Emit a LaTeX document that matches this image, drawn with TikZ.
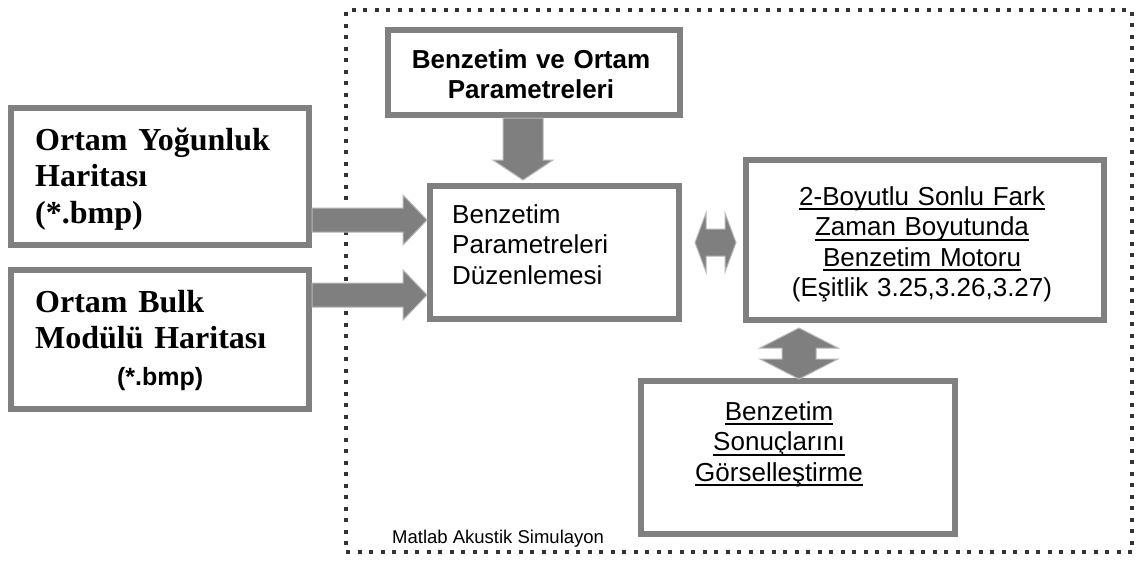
\documentclass[tikz,border=0pt]{standalone}
\usepackage{fontspec}
\setmainfont{Liberation Serif}
\setsansfont{Liberation Sans}
\usetikzlibrary{calc}
\definecolor{boxgray}{HTML}{808080}
\definecolor{arrgray}{HTML}{7F7F7F}
\definecolor{arredge}{HTML}{B8B8B8}
\definecolor{dotcol}{HTML}{333333}
\newsavebox\ulbox
\newcommand\ulin[1]{\leavevmode\sbox\ulbox{#1}\rlap{\rule[-5pt]{\wd\ulbox}{1.6pt}}\usebox\ulbox}
% single right arrow: start, end, shaft half width, head half width, head length
\newcommand\rarrow[5]{\filldraw[fat] ($(#1)+(0,-#3)$) -- ($(#2)+(-#5,-#3)$) -- ($(#2)+(-#5,-#4)$) -- (#2) -- ($(#2)+(-#5,#4)$) -- ($(#2)+(-#5,#3)$) -- ($(#1)+(0,#3)$) -- cycle;}
% single down arrow
\newcommand\darrow[5]{\filldraw[fat] ($(#1)+(-#3,0)$) -- ($(#2)+(-#3,-#5)$) -- ($(#2)+(-#4,-#5)$) -- (#2) -- ($(#2)+(#4,-#5)$) -- ($(#2)+(#3,-#5)$) -- ($(#1)+(#3,0)$) -- cycle;}
% horizontal double arrow
\newcommand\hdarrow[5]{\filldraw[fat] (#1) -- ($(#1)+(#5,-#4)$) -- ($(#1)+(#5,-#3)$) -- ($(#2)+(-#5,-#3)$) -- ($(#2)+(-#5,-#4)$) -- (#2) -- ($(#2)+(-#5,#4)$) -- ($(#2)+(-#5,#3)$) -- ($(#1)+(#5,#3)$) -- ($(#1)+(#5,#4)$) -- cycle;}
% vertical double arrow
\newcommand\vdarrow[5]{\filldraw[fat] (#1) -- ($(#1)+(-#4,#5)$) -- ($(#1)+(-#3,#5)$) -- ($(#2)+(-#3,-#5)$) -- ($(#2)+(-#4,-#5)$) -- (#2) -- ($(#2)+(#4,-#5)$) -- ($(#2)+(#3,-#5)$) -- ($(#1)+(#3,#5)$) -- ($(#1)+(#4,#5)$) -- cycle;}
\begin{document}
\begin{tikzpicture}[x=1pt,y=-1pt,
  box/.style={draw=boxgray,line width=6pt,fill=white,inner sep=0pt},
  fat/.style={fill=arrgray,draw=arredge,line width=1pt,line join=miter},
  framebox/.style={draw=dotcol,line width=4pt,dash pattern=on 4pt off 7.5pt,inner sep=0pt},
  serifbig/.style={inner sep=0pt,align=left,font={\rmfamily\bfseries\fontsize{32}{36.5}\selectfont}},
  sanstxt/.style={inner sep=0pt,font={\sffamily\fontsize{26}{30.5}\selectfont}},
  smalltxt/.style={inner sep=0pt,font={\sffamily\fontsize{18.5}{22}\selectfont}}]
\useasboundingbox (0,0) rectangle (1137,563);
\fill[white] (0,0) rectangle (1137,563);

% dotted frame
\node[framebox,minimum width=786pt,minimum height=542pt] (F) at (739,281) {};
\node[smalltxt,anchor=base west] (Flabel) at (392,543) {Matlab Akustik Simulayon};

% boxes
\node[box,minimum width=298pt,minimum height=137pt] (A) at (160,176.5) {};
\node[box,minimum width=298pt,minimum height=139pt] (B) at (160,339.5) {};
\node[box,minimum width=292pt,minimum height=85pt] (P) at (534,72.5) {};
\node[box,minimum width=249pt,minimum height=133pt] (D) at (554.5,252.5) {};
\node[box,minimum width=358pt,minimum height=160pt] (E) at (925,240) {};
\node[box,minimum width=314pt,minimum height=153pt] (V) at (798,457.5) {};

% texts
\node[serifbig,text width=260pt,anchor=base west] (At) at (35,150) {Ortam Yoğunluk\\Haritası\\(*.bmp)};
\node[serifbig,text width=250pt,anchor=base west] (Bt) at (35,312) {Ortam Bulk\\Modülü Haritası\\\makebox[250pt]{\sffamily\fontsize{25}{30}\selectfont(*.bmp)}};
\node[sanstxt,font={\sffamily\bfseries\fontsize{26}{30}\selectfont},text width=290pt,align=center,anchor=base] (Pt) at (531,68) {Benzetim ve Ortam\\Parametreleri};
\node[sanstxt,text width=220pt,align=left,anchor=base west] (Dt) at (452,223) {Benzetim\\Parametreleri\\Düzenlemesi};
\node[sanstxt,text width=350pt,align=center,anchor=base] (Et) at (922,205) {\ulin{2-Boyutlu Sonlu Fark}\\\ulin{Zaman Boyutunda}\\\ulin{Benzetim Motoru}\\(Eşitlik 3.25,3.26,3.27)};
\node[sanstxt,text width=300pt,align=center,anchor=base] (Vt) at (779,420) {\ulin{Benzetim}\\\ulin{Sonuçlarını}\\\ulin{Görselleştirme}};

% helper coordinates
\coordinate (r1) at (0,220);
\coordinate (r2) at (0,295);
\coordinate (pd) at (523,0);
\coordinate (dd) at (0,242.5);
\coordinate (vx) at (799,0);
\coordinate (a1s) at (A.east |- r1);
\coordinate (a1e) at (D.west |- r1);
\coordinate (a2s) at (B.east |- r2);
\coordinate (a2e) at (D.west |- r2);
\coordinate (p1) at (P.south -| pd);
\coordinate (p2) at ($(D.north -| pd)+(0,-3)$);
\coordinate (h1) at ($(D.east |- dd)+(13,0)$);
\coordinate (h2) at ($(E.west |- dd)+(-7,0)$);
\coordinate (v1) at ($(E.south -| vx)+(0,5)$);
\coordinate (v2) at ($(V.north -| vx)+(0,1)$);

% block arrows
\rarrow{a1s}{a1e}{12}{25}{24}
\rarrow{a2s}{a2e}{12}{25}{24}
\darrow{p1}{p2}{20}{30}{20}
\hdarrow{h1}{h2}{13.5}{29.5}{11}
\vdarrow{v1}{v2}{17}{39}{20}
\end{tikzpicture}
\end{document}
